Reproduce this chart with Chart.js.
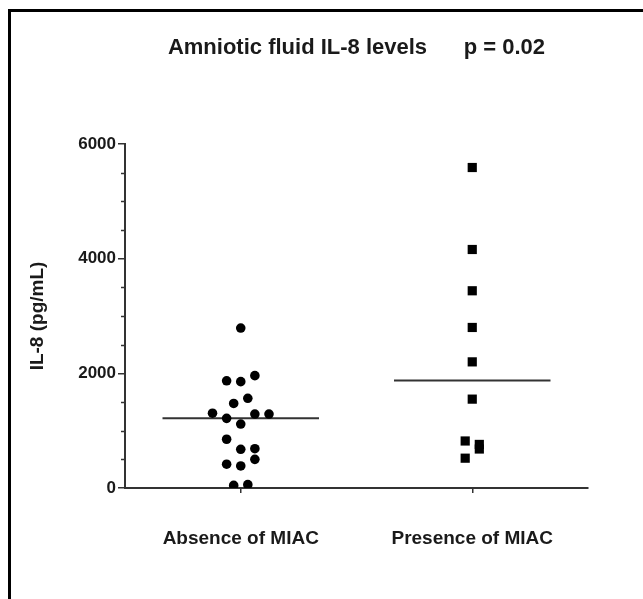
<!DOCTYPE html>
<html>
<head>
<meta charset="utf-8">
<script src="https://cdn.jsdelivr.net/npm/chart.js@4/dist/chart.umd.min.js"></script>
<style>
  body { margin: 0; background: #fff; overflow: hidden; }
  #wrap { position: relative; width: 643px; height: 599px; }
  #frame { position: absolute; left: 8px; top: 9px; width: 700px; height: 700px;
           border-left: 3px solid #000; border-top: 3px solid #000; }
  #chart { position: absolute; left: 0; top: 0; }
</style>
</head>
<body>
<div id="wrap">
  <div id="frame"></div>
  <canvas id="chart" width="643" height="599"></canvas>
</div>
<script>
// groups on the x axis
var groupNames = ["Absence of MIAC", "Presence of MIAC"];

// IL-8 values (pg/mL)
var absenceValues = [2790, 1870, 1855, 1960, 1475, 1565, 1305, 1215, 1290, 1290, 1115, 850, 675, 685, 415, 385, 500, 45, 58];
var presenceValues = [5590, 4160, 3440, 2800, 2200, 1550, 820, 760, 680, 520];

// column slot of each point in the dot plot (0 = on the group tick)
var absenceSlots = [0, -2, 0, 2, -1, 1, -4, -2, 2, 4, 0, -2, 0, 2, -2, 0, 2, -1, 1];
var presenceSlots = [0, 0, 0, 0, 0, 0, -1, 1, 1, -1];

var yTicks = [0, 2000, 4000, 6000];

var slotWidth = 0.0305;
var medianHalf = 0.338;
var ink = "#1a1a1a";

function median(arr) {
    var s = arr.slice().sort(function (a, b) { return a - b; });
    var m = Math.floor(s.length / 2);
    return s.length % 2 ? s[m] : (s[m - 1] + s[m]) / 2;
}

function toPoints(values, slots, groupX) {
    var pts = [];
    for (let i = 0; i < values.length; i++) {
        pts.push({ x: groupX + slots[i] * slotWidth, y: values[i] });
    }
    return pts;
}

function medianLine(values, groupX) {
    var m = median(values);
    return [{ x: groupX - medianHalf, y: m }, { x: groupX + medianHalf, y: m }];
}

// short minor ticks every 500 on the y axis
const minorTicks = {
    id: "minorTicks",
    afterDraw(chart) {
        const y = chart.scales.y;
        const ctx = chart.ctx;
        ctx.save();
        ctx.strokeStyle = "#333";
        ctx.lineWidth = 1.5;
        for (let v = y.min; v <= y.max; v += 500) {
            if (v % 2000 === 0) continue;
            const py = Math.round(y.getPixelForValue(v)) + 0.5;
            ctx.beginPath();
            ctx.moveTo(y.right - 4, py);
            ctx.lineTo(y.right, py);
            ctx.stroke();
        }
        ctx.restore();
    }
};

Chart.defaults.font.family = "'Liberation Sans', Arial, sans-serif";
Chart.defaults.color = ink;

const ctx = document.getElementById("chart").getContext("2d");
const chart = new Chart(ctx, {
    type: "scatter",
    data: {
        datasets: [
            {
                data: toPoints(absenceValues, absenceSlots, 1),
                pointStyle: "circle", pointRadius: 4.8,
                backgroundColor: "#000", borderColor: "#000", borderWidth: 0
            },
            {
                data: toPoints(presenceValues, presenceSlots, 2),
                pointStyle: "rect", pointRadius: 6.5,
                backgroundColor: "#000", borderColor: "#000", borderWidth: 0
            },
            {
                type: "line", data: medianLine(absenceValues, 1),
                borderColor: "#333", borderWidth: 2, pointRadius: 0, showLine: true
            },
            {
                type: "line", data: medianLine(presenceValues, 2),
                borderColor: "#333", borderWidth: 2, pointRadius: 0, showLine: true
            }
        ]
    },
    options: {
        responsive: false,
        animation: false,
        layout: { padding: { left: 0, right: 55, top: 0, bottom: 0 } },
        plugins: {
            legend: { display: false },
            tooltip: { enabled: false },
            title: {
                display: true,
                text: "Amniotic fluid IL-8 levels      p = 0.02",
                fullSize: false,
                color: ink,
                font: { size: 22, weight: "bold" },
                padding: { top: 35, bottom: 82.6 }
            }
        },
        scales: {
            x: {
                type: "linear",
                min: 0.5, max: 2.5,
                afterBuildTicks: function (scale) {
                    scale.ticks = groupNames.map(function (n, i) { return { value: i + 1 }; });
                },
                afterFit: function (scale) { scale.height = 111; },
                ticks: {
                    callback: function (v) { return groupNames[v - 1]; },
                    font: { size: 19, weight: "bold" },
                    color: ink,
                    padding: 34,
                    maxRotation: 0
                },
                grid: { drawOnChartArea: false, drawTicks: true, tickLength: 5, color: "#333", lineWidth: 1.5 },
                border: { display: true, color: "#333", width: 2 }
            },
            y: {
                min: 0, max: 6000,
                afterBuildTicks: function (scale) {
                    scale.ticks = yTicks.map(function (v) { return { value: v }; });
                },
                afterFit: function (scale) { scale.width = 125; },
                ticks: {
                    callback: function (v) { return String(v); },
                    font: { size: 17, weight: "bold" },
                    color: ink,
                    padding: 2
                },
                grid: { drawOnChartArea: false, drawTicks: true, tickLength: 7, color: "#333", lineWidth: 1.5 },
                border: { display: true, color: "#333", width: 2 },
                title: {
                    display: true,
                    text: "IL-8 (pg/mL)",
                    color: ink,
                    font: { size: 19, weight: "bold" },
                    padding: { top: 26, bottom: 0 }
                }
            }
        }
    },
    plugins: [minorTicks]
});
</script>
</body>
</html>
